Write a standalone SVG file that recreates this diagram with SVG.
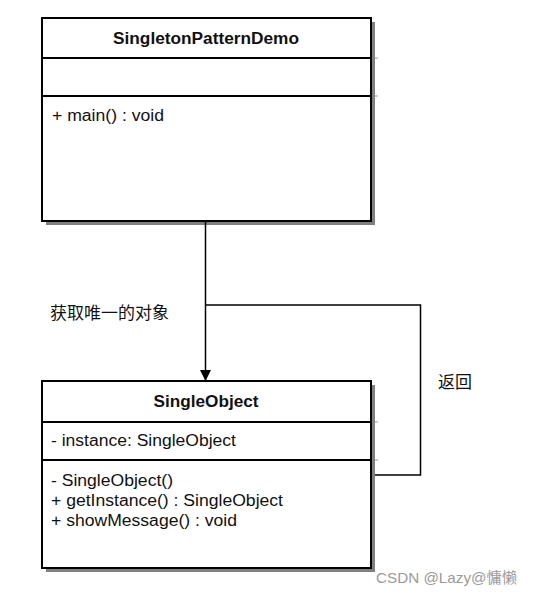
<svg xmlns="http://www.w3.org/2000/svg" width="533" height="595" viewBox="0 0 533 595">
<style>
.box{fill:#fff;stroke:#000;stroke-width:2}
.shadow{fill:#808080}
.div{stroke:#000;stroke-width:2}
.t{font-family:"Liberation Sans",Arial,sans-serif;font-size:16px;fill:#111}
.b{font-weight:bold;text-anchor:middle}
.cjk{font-family:"Liberation Sans","Noto Sans CJK SC",sans-serif;font-size:16.5px;fill:#111}
.conn{fill:none;stroke:#000;stroke-width:1.5}
</style>
<defs>
<marker id="arr" markerWidth="12" markerHeight="12" refX="11" refY="6" orient="auto" markerUnits="userSpaceOnUse" viewBox="0 0 12 12">
<path d="M0,0.5 L11,6 L0,11.5 Z" fill="#000"/>
</marker>
</defs>
<rect width="533" height="595" fill="#fff"/>
<g id="SingletonPatternDemo">
<rect class="shadow" x="46" y="22" width="329" height="203"/>
<rect class="box" x="42" y="18" width="329" height="203"/>
<line class="div" x1="42" y1="58" x2="371" y2="58"/>
<line class="div" x1="42" y1="96" x2="371" y2="96"/>
<line x1="375" y1="58" x2="378" y2="58" stroke="#999" stroke-width="1"/>
<line x1="375" y1="96" x2="378" y2="96" stroke="#999" stroke-width="1"/>
<text class="t b" x="206" y="44" textLength="186" lengthAdjust="spacingAndGlyphs">SingletonPatternDemo</text>
<text class="t" x="52" y="121" textLength="112" lengthAdjust="spacingAndGlyphs">+ main() : void</text>
</g>
<g id="SingleObject">
<rect class="shadow" x="46" y="385" width="329" height="187"/>
<rect class="box" x="42" y="381" width="329" height="187"/>
<line class="div" x1="42" y1="422" x2="371" y2="422"/>
<line class="div" x1="42" y1="460" x2="371" y2="460"/>
<line x1="375" y1="422" x2="378" y2="422" stroke="#999" stroke-width="1"/>
<line x1="375" y1="460" x2="378" y2="460" stroke="#999" stroke-width="1"/>
<text class="t b" x="206" y="407" textLength="105" lengthAdjust="spacingAndGlyphs">SingleObject</text>
<text class="t" x="51" y="446" textLength="185" lengthAdjust="spacingAndGlyphs">- instance: SingleObject</text>
<text class="t" x="51" y="486" textLength="122" lengthAdjust="spacingAndGlyphs">- SingleObject()</text>
<text class="t" x="51" y="506" textLength="232" lengthAdjust="spacingAndGlyphs">+ getInstance() : SingleObject</text>
<text class="t" x="51" y="526" textLength="186" lengthAdjust="spacingAndGlyphs">+ showMessage() : void</text>
</g>
<g id="connectors">
<line class="conn" x1="205.5" y1="221" x2="205.5" y2="381" marker-end="url(#arr)"/>
<polyline class="conn" points="375,475 420.5,475 420.5,305 205.5,305"/>
<text class="cjk" x="50" y="319" textLength="119" lengthAdjust="spacingAndGlyphs">获取唯一的对象</text>
<text class="cjk" x="438" y="388" textLength="34" lengthAdjust="spacingAndGlyphs">返回</text>
</g>
<text x="376" y="583" font-family="Liberation Sans,'Noto Sans CJK SC',sans-serif" font-size="15" fill="#9a9a9a" textLength="141" lengthAdjust="spacingAndGlyphs">CSDN @Lazy@慵懒</text>
</svg>
